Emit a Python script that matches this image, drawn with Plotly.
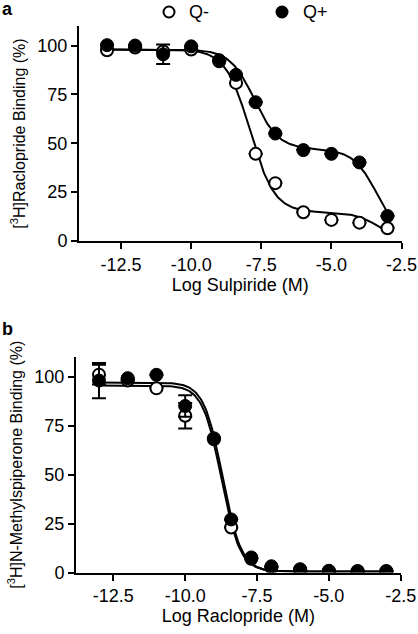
import numpy as np
import plotly.graph_objects as go

# ---------------- data ----------------
log_conc = [-13, -12, -11, -10, -9, -8.4, -7.7, -7, -6, -5, -4, -3]

# Panel a: [3H]Raclopride binding vs Log Sulpiride
a_qminus = [97.6, 99.0, 97.0, 98.0, 92.0, 80.9, 44.6, 29.6, 14.7, 10.8, 9.4, 6.5]
a_qplus = [100.2, 100.0, 95.5, 99.6, 92.5, 85.0, 71.0, 55.0, 46.5, 44.6, 40.2, 12.8]
a_qplus_err = [0, 0, 5.0, 0, 0, 0, 0, 0, 0, 0, 0, 0]

# Panel b: [3H]N-Methylspiperone binding vs Log Raclopride
b_qminus = [101.0, 98.0, 94.0, 80.0, 68.0, 23.0, 7.0, 2.5, 1.2, 0.7, 0.6, 0.6]
b_qminus_err = [5.0, 0, 0, 6.5, 0, 0, 0, 0, 0, 0, 0, 0]
b_qplus = [98.0, 99.2, 100.9, 85.0, 68.5, 27.1, 7.7, 3.2, 1.7, 0.9, 0.7, 0.7]
b_qplus_err = [9.0, 0, 0, 5.5, 0, 0, 0, 0, 0, 0, 0, 0]

# fitted two-site model parameters: top, bottom, fraction site1, logIC1, logIC2
fit_a_qminus = [98.0, 0.0, 0.85, -7.9, -3.3]
fit_a_qplus = [98.0, 0.0, 0.52, -7.75, -3.35]
# one-site with Hill slope: top, bottom, logIC50, hill
fit_b_qminus = [95.5, 0.5, -8.74, 1.34]
fit_b_qplus = [97.0, 0.5, -8.70, 1.34]

x_ticks = [-12.5, -10.0, -7.5, -5.0, -2.5]
y_ticks = [0, 25, 50, 75, 100]
legend_labels = ["Q-", "Q+"]


def two_site(x, p):
    top, bot, f, ic1, ic2 = p
    return bot + (top - bot) * (f / (1 + 10 ** (x - ic1)) + (1 - f) / (1 + 10 ** (x - ic2)))


def one_site(x, p):
    top, bot, ic, h = p
    return bot + (top - bot) / (1 + 10 ** (h * (x - ic)))


xf = np.linspace(-13, -3, 300)

FONT = "Liberation Sans, Arial, sans-serif"
fig = go.Figure()

line_style = dict(color="black", width=2)
open_marker = dict(symbol="circle", size=12, color="white", line=dict(color="black", width=2))
filled_marker = dict(symbol="circle", size=13, color="black", line=dict(color="black", width=1))


def add_panel(xa, ya, yq_m, yq_p, em, ep, curve_m, curve_p):
    fig.add_trace(go.Scatter(x=xf, y=curve_m, mode="lines", line=line_style,
                             xaxis=xa, yaxis=ya, showlegend=False, hoverinfo="skip"))
    fig.add_trace(go.Scatter(x=xf, y=curve_p, mode="lines", line=line_style,
                             xaxis=xa, yaxis=ya, showlegend=False, hoverinfo="skip"))
    fig.add_trace(go.Scatter(
        x=log_conc, y=yq_m, mode="markers", name="Q-", marker=open_marker,
        error_y=dict(type="data", array=em, visible=True, color="black", thickness=2, width=7),
        xaxis=xa, yaxis=ya, showlegend=False))
    fig.add_trace(go.Scatter(
        x=log_conc, y=yq_p, mode="markers", name="Q+", marker=filled_marker,
        error_y=dict(type="data", array=ep, visible=True, color="black", thickness=2, width=7),
        xaxis=xa, yaxis=ya, showlegend=False))


add_panel("x", "y", a_qminus, a_qplus, [0] * 12, a_qplus_err,
          two_site(xf, fit_a_qminus), two_site(xf, fit_a_qplus))
add_panel("x2", "y2", b_qminus, b_qplus, b_qminus_err, b_qplus_err,
          one_site(xf, fit_b_qminus), one_site(xf, fit_b_qplus))

W, H = 418, 634
ax_common = dict(showgrid=False, zeroline=False, showline=True, linecolor="black",
                 linewidth=2, ticks="outside", ticklen=6, tickwidth=2, tickcolor="black",
                 tickfont=dict(family=FONT, size=18, color="black"), automargin=False)

# legend drawn as paper-referenced symbols + text (top centre)
leg_y = 1 - 12 / H
r = 5.5
legend_shapes = []
legend_annots = []
for cx, fill, lab, tx in [(169, "white", legend_labels[0], 187),
                          (282, "black", legend_labels[1], 301)]:
    legend_shapes.append(dict(type="circle", xref="paper", yref="paper",
                              x0=(cx - r) / W, x1=(cx + r) / W,
                              y0=leg_y - r / H, y1=leg_y + r / H,
                              fillcolor=fill, line=dict(color="black", width=2)))
    legend_annots.append(dict(text=lab, x=tx / W, y=leg_y, xref="paper", yref="paper",
                              xanchor="left", yanchor="middle", showarrow=False,
                              font=dict(family=FONT, size=18, color="black")))

fig.update_layout(
    width=W, height=H, margin=dict(l=0, r=0, t=0, b=0, autoexpand=False),
    paper_bgcolor="white", plot_bgcolor="white",
    font=dict(family=FONT, color="black"),
    showlegend=False,
    xaxis=dict(domain=[79 / W, 401.5 / W], range=[-14, -2.5], tickvals=x_ticks,
               ticktext=[f"{v:.1f}" for v in x_ticks], anchor="y",
               title=dict(text="Log Sulpiride (M)", font=dict(family=FONT, size=18), standoff=0),
               **ax_common),
    yaxis=dict(domain=[1 - 241 / H, 1 - 26 / H], range=[0, 110], tickvals=y_ticks,
               anchor="x",
               title=dict(text="[<sup>3</sup>H]Raclopride Binding (%)",
                          font=dict(family=FONT, size=16), standoff=8),
               **ax_common),
    xaxis2=dict(domain=[76 / W, 400.7 / W], range=[-13.8, -2.5], tickvals=x_ticks,
                ticktext=[f"{v:.1f}" for v in x_ticks], anchor="y2",
                title=dict(text="Log Raclopride (M)", font=dict(family=FONT, size=18), standoff=0),
                **ax_common),
    yaxis2=dict(domain=[1 - 572.5 / H, 1 - 357 / H], range=[0, 110], tickvals=y_ticks,
                anchor="x2",
                title=dict(text="[<sup>3</sup>H]N-Methylspiperone Binding (%)",
                           font=dict(family=FONT, size=16), standoff=8),
                **ax_common),
    shapes=legend_shapes,
    annotations=[
        dict(text="<b>a</b>", x=0, y=1, xref="paper", yref="paper", xanchor="left",
             yanchor="top", showarrow=False, font=dict(family=FONT, size=18, color="black"),
             yshift=3),
        dict(text="<b>b</b>", x=0, y=1 - 317 / H, xref="paper", yref="paper", xanchor="left",
             yanchor="top", showarrow=False, font=dict(family=FONT, size=18, color="black")),
    ] + legend_annots,
)

fig.write_html(
    "out.html",
    config={"displayModeBar": False},
    post_script="document.body.style.margin='0';document.body.style.overflow='hidden';",
)
